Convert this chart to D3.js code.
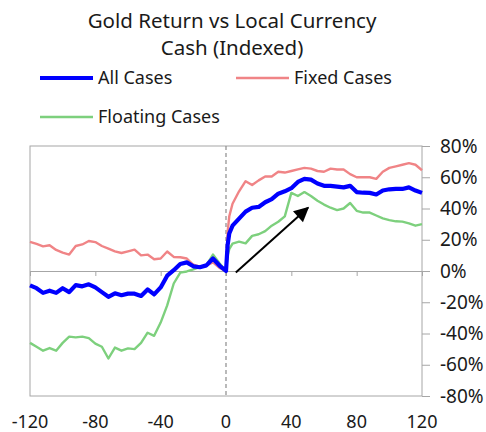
<!DOCTYPE html>
<html>
<head>
<meta charset="utf-8">
<script src="https://cdn.jsdelivr.net/npm/d3@7"></script>
<style>
  body { margin: 0; background: #fff; }
  svg text { font-family: "Noto Sans", "Open Sans", sans-serif; fill: #1a1a1a; }
</style>
</head>
<body>
<svg id="chart" width="486" height="432"></svg>
<script>
// days relative to the event (x), series in % (y)
const days = [-120, -116, -112, -108, -104, -100, -96, -92, -88, -84, -80, -76, -72, -68, -64, -60,
  -56, -52, -48, -44, -40, -36, -32, -28, -24, -20, -16, -12, -8, -4, 0, 1, 2, 4, 8, 12, 16, 20,
  24, 28, 32, 36, 40, 44, 48, 52, 56, 60, 64, 68, 72, 76, 80, 84, 88, 92, 96, 100, 104, 108, 112, 116, 120];

const allCases = [-9.2, -11, -14, -12.6, -14, -11, -13.5, -9, -9.8, -8.5, -10.5, -13.5, -16.5, -14.3, -15.5, -14.5,
  -14.5, -16, -11.8, -15, -10.5, -3, 0.5, 4.5, 5.5, 3, 2.4, 3.6, 8, 3.5, 0, 16.6, 24, 29, 33.5, 38, 40.5, 41,
  44, 46, 49.5, 51, 53, 57, 59, 58.5, 56, 54.5, 54.5, 54, 53.5, 54.5, 50.5, 50.1, 50, 49, 51.5, 52.3, 52.6, 52.5, 53.5, 51.5, 50];

const fixedCases = [18.7, 17.3, 15.8, 16.5, 13.5, 11.8, 10.5, 16, 17, 19.2, 18.5, 16, 14.3, 12.6, 11.5, 12.6,
  13.7, 10, 10.5, 7.5, 8, 12.5, 9, 8.8, 8, 4, 2.8, 3.5, 5.5, 2, 0, 25, 35, 43, 51, 57.5, 55, 58,
  60.5, 60.5, 63.5, 63, 64, 65, 66, 65.5, 64, 63.5, 65.5, 65, 65, 62, 60, 60, 60, 59, 63.5, 66, 67, 68, 69, 68, 64.5];

const floatingCases = [-46, -48.5, -51, -49.3, -51, -46, -42, -42.5, -42, -43, -46.5, -48.5, -56, -49, -51, -49.5,
  -50, -46, -39.5, -41.5, -33, -22, -8, -1, -0.3, 1, 2.5, 3.6, 10.5, 5, 0, 10, 14, 17.5, 18.8, 17.7, 22.5, 23.5,
  25.5, 29, 31.5, 35, 50, 48, 50.5, 48, 45, 42.5, 40.5, 39, 40, 43.5, 38.5, 37.4, 37.4, 35.5, 33.7, 32.6, 31.8, 31.6, 30.5, 29, 30];

const xTicks = [-120, -80, -40, 0, 40, 80, 120];
const yTicks = [-80, -60, -40, -20, 0, 20, 40, 60, 80];

const titleLines = ["Gold Return vs Local Currency", "Cash (Indexed)"];

// arrow annotation in data units: [day, %]
const arrowFrom = [6, -1];
const arrowTo = [50.2, 40.5];

const series = [
  { name: "Floating Cases", values: floatingCases, color: "#7dd07d", width: 2.4 },
  { name: "Fixed Cases", values: fixedCases, color: "#f08486", width: 2.4 },
  { name: "All Cases", values: allCases, color: "#0000ff", width: 4.2 }
];

const svg = d3.select("#chart");
const margin = { top: 146, right: 64, bottom: 36, left: 30 };
const width = 486 - margin.left - margin.right;
const height = 432 - margin.top - margin.bottom;

const x = d3.scaleLinear().domain([-120, 120]).range([margin.left, margin.left + width]);
const y = d3.scaleLinear().domain([-80, 80]).range([margin.top + height, margin.top]);

// title
svg.append("text")
  .attr("text-anchor", "middle")
  .attr("font-size", 20.5)
  .selectAll("tspan")
  .data(titleLines)
  .join("tspan")
  .attr("x", 232)
  .attr("y", (d, i) => 28 + i * 27)
  .text(d => d);

// legend
const legendItems = [
  { s: series[2], x: 40, y: 78 },
  { s: series[1], x: 236, y: 78 },
  { s: series[0], x: 40, y: 117 }
];
const legend = svg.append("g").attr("class", "legend");
legendItems.forEach(d => {
  legend.append("line")
    .attr("x1", d.x).attr("x2", d.x + 53)
    .attr("y1", d.y).attr("y2", d.y)
    .attr("stroke", d.s.color)
    .attr("stroke-width", d.s.width);
  legend.append("text")
    .attr("x", d.x + 58)
    .attr("y", d.y + 6)
    .attr("font-size", 18)
    .text(d.s.name);
});

// plot border
svg.append("rect")
  .attr("x", margin.left).attr("y", margin.top)
  .attr("width", width).attr("height", height)
  .attr("fill", "none")
  .attr("stroke", "#a6a6a6")
  .attr("stroke-width", 1);

// zero line with ticks
const xAxis = svg.append("g")
  .attr("transform", `translate(0,${y(0)})`)
  .call(d3.axisBottom(x).tickValues(xTicks).tickSize(5).tickFormat(""));
xAxis.select(".domain").attr("stroke", "#a6a6a6");
xAxis.selectAll(".tick line").attr("stroke", "#a6a6a6");

// x labels along the bottom
svg.append("g")
  .selectAll("text")
  .data(xTicks)
  .join("text")
  .attr("x", d => x(d))
  .attr("y", 428)
  .attr("text-anchor", "middle")
  .attr("font-size", 18)
  .text(d => d);

// right y axis
const yAxis = svg.append("g")
  .attr("transform", `translate(${margin.left + width},0)`)
  .call(d3.axisRight(y).tickValues(yTicks).tickSize(8).tickPadding(10).tickFormat(d => d + "%"));
yAxis.select(".domain").remove();
yAxis.selectAll(".tick line").attr("stroke", "#a6a6a6");
yAxis.selectAll(".tick text")
  .attr("font-size", 19)
  .attr("font-family", "'Noto Sans', sans-serif")
  .attr("fill", "#1a1a1a");

// event marker
svg.append("line")
  .attr("x1", x(0)).attr("x2", x(0))
  .attr("y1", margin.top).attr("y2", margin.top + height)
  .attr("stroke", "#8c8c8c")
  .attr("stroke-width", 1.2)
  .attr("stroke-dasharray", "4,3");

// series lines
const line = d3.line()
  .x((d, i) => x(days[i]))
  .y(d => y(d));

svg.append("g")
  .selectAll("path")
  .data(series)
  .join("path")
  .attr("d", d => line(d.values))
  .attr("fill", "none")
  .attr("stroke", d => d.color)
  .attr("stroke-width", d => d.width)
  .attr("stroke-linejoin", "round");

// arrow
svg.append("defs").append("marker")
  .attr("id", "arrowhead")
  .attr("viewBox", "0 0 10 10")
  .attr("refX", 9).attr("refY", 5)
  .attr("markerUnits", "userSpaceOnUse")
  .attr("markerWidth", 17).attr("markerHeight", 15)
  .attr("orient", "auto")
  .append("path")
  .attr("d", "M0,0 L10,5 L0,10 Z")
  .attr("fill", "#000");

svg.append("line")
  .attr("x1", x(arrowFrom[0])).attr("y1", y(arrowFrom[1]))
  .attr("x2", x(arrowTo[0])).attr("y2", y(arrowTo[1]))
  .attr("stroke", "#000")
  .attr("stroke-width", 2)
  .attr("marker-end", "url(#arrowhead)");
</script>
</body>
</html>
